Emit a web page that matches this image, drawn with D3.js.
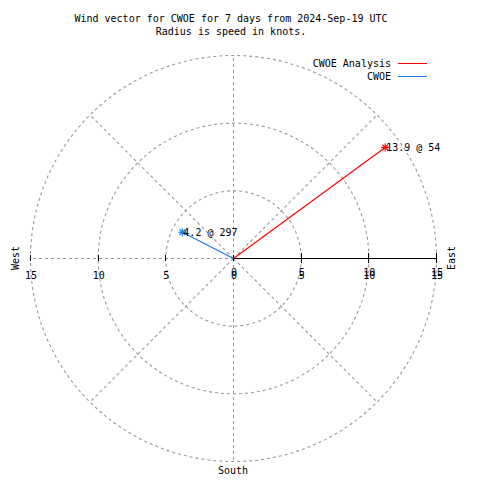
<!DOCTYPE html>
<html><head><meta charset="utf-8">
<script src="https://cdn.jsdelivr.net/npm/d3@7"></script>
<style>body{margin:0;background:#fff}svg{display:block}.crisp{shape-rendering:crispEdges}text{font-family:"DejaVu Sans Mono","Liberation Mono",monospace;font-size:10px;fill:#000}</style>
</head><body>
<script>
const titleLines = ["Wind vector for CWOE for 7 days from 2024-Sep-19 UTC", "Radius is speed in knots."];
const seriesNames = ["CWOE Analysis", "CWOE"];
const seriesColors = ["#ff0000", "#1e78e6"];
const speeds = [13.9, 4.2];
const directions = [54, 297];
const ringValues = [5, 10, 15];
const tickLabels = ["0", "5", "10", "15"];
const spokeAngles = [0, 45, 90, 135, 180, 225, 270, 315];

const W = 480, H = 480, cx = 233, cy = 258, R = 203;
const svg = d3.select("body").append("svg").attr("width", W).attr("height", H);
const r = d3.scaleLinear().domain([0, 15]).range([0, R]);
const pt = (spd, deg) => [cx + r(spd) * Math.sin(deg * Math.PI / 180), cy - r(spd) * Math.cos(deg * Math.PI / 180)];

// title
svg.selectAll("text.title").data(titleLines).enter().append("text")
  .attr("x", 231).attr("y", (d, i) => 22 + i * 13).attr("text-anchor", "middle").text(d => d);

const grid = svg.append("g").attr("stroke", "#999").attr("fill", "none").attr("stroke-dasharray", "3,3").attr("stroke-width", 1.1);
grid.selectAll("circle").data(ringValues).enter().append("circle")
  .attr("cx", cx + 0.5).attr("cy", cy + 0.5).attr("r", d => r(d));
grid.selectAll("line").data(spokeAngles).enter().append("line")
  .attr("class", d => d % 90 === 0 ? "crisp" : null)
  .attr("x1", cx + 0.5).attr("y1", cy + 0.5)
  .attr("x2", d => pt(15, d)[0] + 0.5).attr("y2", d => pt(15, d)[1] + 0.5);

// east axis solid
svg.append("line").attr("class", "crisp").attr("x1", cx).attr("y1", cy + 0.5).attr("x2", cx + r(15)).attr("y2", cy + 0.5).attr("stroke", "#000");
svg.selectAll("line.et").data([5, 10, 15]).enter().append("line").attr("class", "crisp")
  .attr("x1", d => cx + r(d) + 0.5).attr("x2", d => cx + r(d) + 0.5).attr("y1", cy - 5).attr("y2", cy + 5).attr("stroke", "#000");
svg.selectAll("line.wt").data([0, 5, 10, 15]).enter().append("line").attr("class", "crisp")
  .attr("x1", d => cx - r(d) + 0.5).attr("x2", d => cx - r(d) + 0.5).attr("y1", cy - 3).attr("y2", cy + 3).attr("stroke", "#000");

// labels (reference draws the east-side labels twice, slightly offset)
const tickVals = [0, 5, 10, 15];
[276, 279].forEach(y => {
  svg.selectAll(null).data(tickVals).enter().append("text")
    .attr("x", d => cx + r(d) + 1).attr("y", y).attr("text-anchor", "middle").text((d, i) => tickLabels[i]);
});
svg.selectAll(null).data(tickVals.slice(1)).enter().append("text")
  .attr("x", d => cx - r(d) + 1).attr("y", 279).attr("text-anchor", "middle").text((d, i) => tickLabels[i + 1]);

svg.append("text").attr("transform", `translate(19,${cy}) rotate(-90)`).attr("text-anchor", "middle").text("West");
svg.append("text").attr("transform", `translate(455,${cy}) rotate(-90)`).attr("text-anchor", "middle").text("East");
svg.append("text").attr("x", cx).attr("y", 474).attr("text-anchor", "middle").text("South");

// vectors
speeds.forEach((s, i) => {
  const [x, y] = pt(s, directions[i]);
  svg.append("line").attr("x1", cx + 0.5).attr("y1", cy + 0.5).attr("x2", x).attr("y2", y)
    .attr("stroke", seriesColors[i]).attr("stroke-width", 1.2);
  const g = svg.append("g").attr("stroke", seriesColors[i]).attr("stroke-width", 1.2);
  [0, 45, 90, 135].forEach(a => {
    const dx = 4 * Math.cos(a * Math.PI / 180), dy = 4 * Math.sin(a * Math.PI / 180);
    g.append("line").attr("x1", x - dx).attr("y1", y - dy).attr("x2", x + dx).attr("y2", y + dy);
  });
  svg.append("text").attr("x", x + 1).attr("y", y + 4).text(`${s} @ ${directions[i]}`);
});

// legend
seriesNames.forEach((n, i) => {
  svg.append("text").attr("x", 391).attr("y", 67 + i * 13).attr("text-anchor", "end").text(n);
  svg.append("line").attr("x1", 398).attr("x2", 427).attr("y1", 63.5 + i * 13).attr("y2", 63.5 + i * 13)
    .attr("stroke", seriesColors[i]).attr("stroke-width", 1);
});
</script>
</body></html>
